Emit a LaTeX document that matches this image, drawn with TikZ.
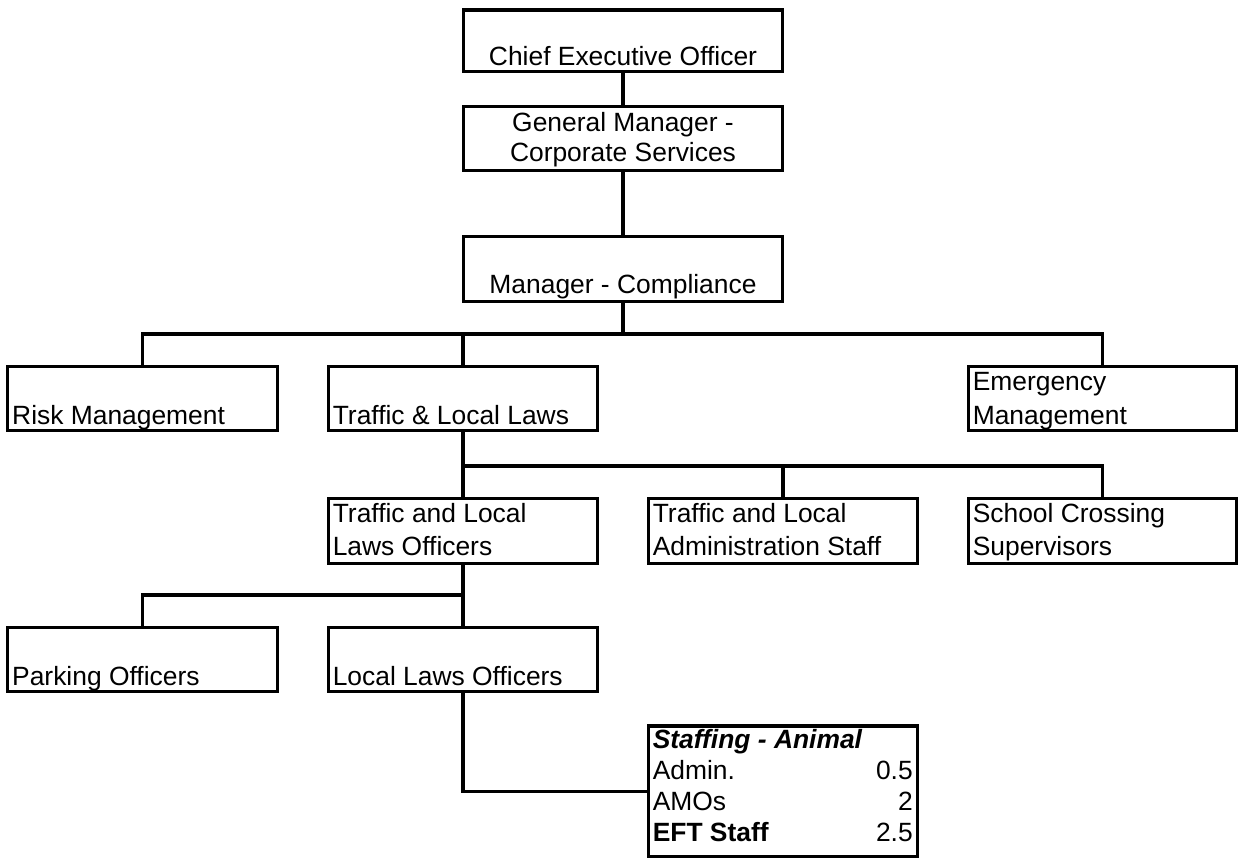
\documentclass[tikz,border=0pt]{standalone}
\usepackage{fontspec}
\setmainfont{Liberation Sans}
\begin{document}
\begin{tikzpicture}[x=1pt,y=-1pt]
\tikzset{
  box/.style={draw=black, line width=3.3pt, inner sep=0pt, outer sep=0pt, minimum width=269.5pt, minimum height=64pt},
  conn/.style={draw=black, line width=3.3pt},
  txt/.style={inner sep=0pt, outer sep=0pt, font=\fontsize{26.4}{30}\selectfont},
}
\useasboundingbox (0,0) rectangle (1238,859);
% boxes
\node[box, minimum width=319.4pt, minimum height=61.7pt] (ceo) at (623,40.85) {};
\node[box, minimum width=319.4pt, minimum height=64pt] (gm) at (623,138.7) {};
\node[box, minimum width=319.4pt, minimum height=65pt] (mc) at (623,269.2) {};
\node[box] (risk) at (142.5,398.7) {};
\node[box] (tll) at (463,398.7) {};
\node[box, minimum width=268pt] (em) at (1102.3,398.7) {};
\node[box, minimum height=65pt] (tllo) at (463,530.8) {};
\node[box, minimum height=65pt] (admin) at (783,530.8) {};
\node[box, minimum width=268pt, minimum height=65pt] (school) at (1102.3,530.8) {};
\node[box] (parking) at (142.5,659.7) {};
\node[box] (llo) at (463,659.7) {};
\node[box, minimum height=130.7pt] (staff) at (783,791.35) {};
% texts
\node[txt, anchor=base] (ceoT) at (623,65.7) {Chief Executive Officer};
\node[txt, anchor=base] (gmT1) at (623,131.7) {General Manager -};
\node[txt, anchor=base] (gmT2) at (623,161.7) {Corporate Services};
\node[txt, anchor=base] (mcT) at (623,293.3) {Manager - Compliance};
\node[txt, anchor=base west] (riskT) at (12.2,424) {Risk Management};
\node[txt, anchor=base west] (tllT) at (332.8,424) {Traffic \& Local Laws};
\node[txt, anchor=base west] (emT1) at (972.8,390) {Emergency};
\node[txt, anchor=base west] (emT2) at (972.8,424) {Management};
\node[txt, anchor=base west] (tlloT1) at (332.8,522.3) {Traffic and Local};
\node[txt, anchor=base west] (tlloT2) at (332.8,555) {Laws Officers};
\node[txt, anchor=base west] (adminT1) at (652.8,522.3) {Traffic and Local};
\node[txt, anchor=base west] (adminT2) at (652.8,555) {Administration Staff};
\node[txt, anchor=base west] (schoolT1) at (972.8,522.3) {School Crossing};
\node[txt, anchor=base west] (schoolT2) at (972.8,555) {Supervisors};
\node[txt, anchor=base west] (parkingT) at (12.2,685) {Parking Officers};
\node[txt, anchor=base west] (lloT) at (332.8,685) {Local Laws Officers};
\node[txt, anchor=base west] (stT1) at (652.8,748.3) {\bfseries\itshape Staffing - Animal};
\node[txt, anchor=base west] (stT2) at (652.8,779.4) {Admin.};
\node[txt, anchor=base east] (stV2) at (912.7,779.4) {0.5};
\node[txt, anchor=base west] (stT3) at (652.8,810.5) {AMOs};
\node[txt, anchor=base east] (stV3) at (912.7,810.5) {2};
\node[txt, anchor=base west] (stT4) at (652.8,841.6) {\bfseries EFT Staff};
\node[txt, anchor=base east] (stV4) at (912.7,841.6) {2.5};
% connectors
\coordinate (j1) at (623,334);
\coordinate (j2) at (463,466);
\coordinate (j3) at (463,595);
\draw[conn] (ceo.south) -- (gm.north);
\draw[conn] (gm.south) -- (mc.north);
\draw[conn] (mc.south) -- (j1);
\draw[conn] (risk.north) |- (j1) -| (em.north);
\draw[conn] (tll.north) -- (tll.north |- j1);
\draw[conn] (tll.south) -- (tllo.north);
\draw[conn] (j2) -| (school.north);
\draw[conn] (admin.north) -- (admin.north |- j2);
\draw[conn] (tllo.south) -- (llo.north);
\draw[conn] (parking.north) |- (j3);
\draw[conn] (llo.south) |- (staff.west);
\end{tikzpicture}
\end{document}
